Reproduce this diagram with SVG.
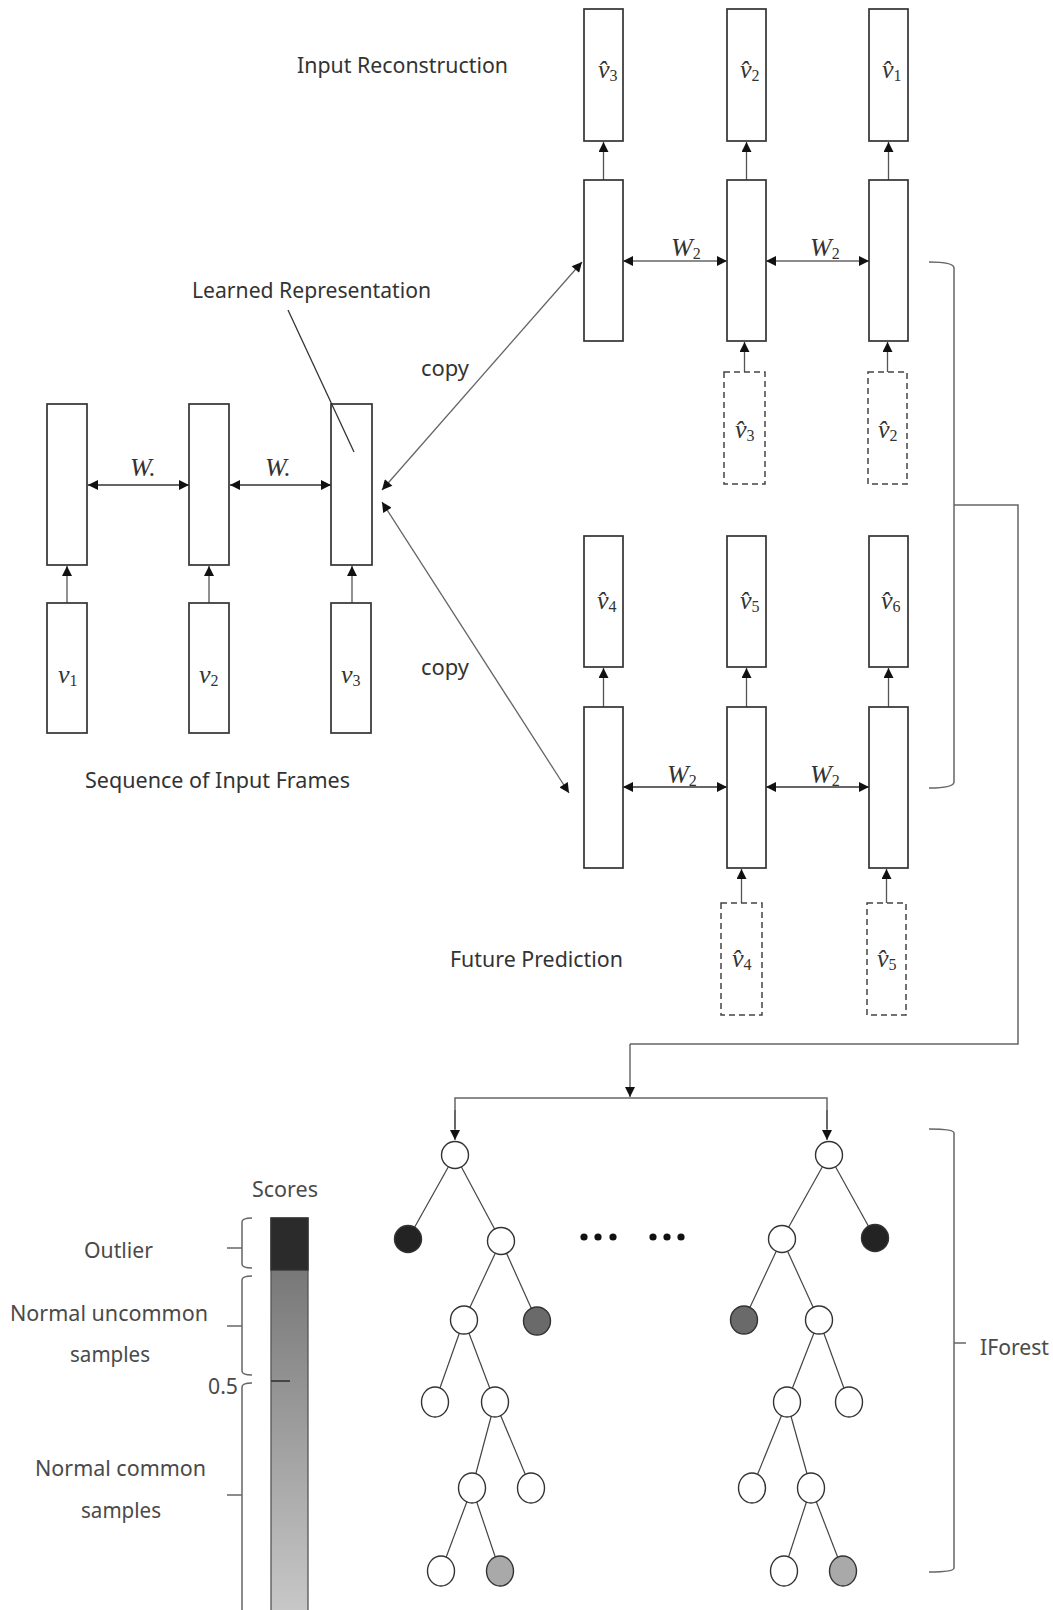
<svg xmlns="http://www.w3.org/2000/svg" width="1053" height="1610" viewBox="0 0 1053 1610">
<defs>
  <marker id="ah" viewBox="0 0 10 10" refX="10" refY="5" markerWidth="11" markerHeight="10" markerUnits="userSpaceOnUse" orient="auto-start-reverse">
    <path d="M0,0 L10,5 L0,10 z" fill="#111"/>
  </marker>
  <linearGradient id="scoreGrad" x1="0" y1="0" x2="0" y2="1">
    <stop offset="0" stop-color="#6c6c6c"/>
    <stop offset="1" stop-color="#c9c9c9"/>
  </linearGradient>
  <style>
    .box { fill: #fff; stroke: #333; stroke-width: 1.7; }
    .dbox { fill: #fff; stroke: #444; stroke-width: 1.5; stroke-dasharray: 6 4; }
    .lbl { font-family: "Noto Sans", "Open Sans", sans-serif; font-size: 21px; fill: #333; }
    .slbl { font-family: "Noto Sans", "Open Sans", sans-serif; font-size: 22px; fill: #4a4a4a; }
    .math { font-family: "Liberation Serif", "DejaVu Serif", serif; font-style: italic; font-size: 26px; fill: #333; }
    .sub { font-size: 16px; font-style: normal; }
    .arr { stroke: #555; stroke-width: 1.3; fill: none; marker-end: url(#ah); }
    .darr { stroke: #333; stroke-width: 1.7; fill: none; marker-start: url(#ah); marker-end: url(#ah); }
    .garr { stroke: #666; stroke-width: 1.3; fill: none; marker-start: url(#ah); marker-end: url(#ah); }
    .wire { stroke: #666; stroke-width: 1.5; fill: none; }
    .edge { stroke: #444; stroke-width: 1.2; }
    .tn { stroke: #333; stroke-width: 1.4; }
    .white { fill: #fff; }
    .black { fill: #232323; }
    .gray { fill: #6a6a6a; }
    .lgray { fill: #a9a9a9; }
  </style>
</defs>

<!-- Texts -->
<text class="lbl" x="297" y="73" textLength="211" lengthAdjust="spacingAndGlyphs">Input Reconstruction</text>
<text class="lbl" x="192" y="298" textLength="239" lengthAdjust="spacingAndGlyphs">Learned Representation</text>
<text class="lbl" x="421" y="376" textLength="48" lengthAdjust="spacingAndGlyphs">copy</text>
<text class="lbl" x="421" y="675" textLength="48" lengthAdjust="spacingAndGlyphs">copy</text>
<text class="lbl" x="85" y="788" textLength="265" lengthAdjust="spacingAndGlyphs">Sequence of Input Frames</text>
<text class="lbl" x="450" y="967" textLength="173" lengthAdjust="spacingAndGlyphs">Future Prediction</text>

<!-- Connectors -->
<g id="connectors">
  <!-- left encoder -->
  <line class="darr" x1="88" y1="485" x2="189" y2="485"/>
  <line class="darr" x1="230" y1="485" x2="331" y2="485"/>
  <line class="arr" x1="67" y1="603" x2="67" y2="566"/>
  <line class="arr" x1="209" y1="603" x2="209" y2="566"/>
  <line class="arr" x1="352" y1="603" x2="352" y2="566"/>
  <!-- copy arrows -->
  <line class="garr" x1="382" y1="490" x2="582" y2="262"/>
  <line class="garr" x1="382" y1="502" x2="569" y2="793"/>
  <!-- upper decoder -->
  <line class="garr" x1="623" y1="261" x2="727" y2="261"/>
  <line class="garr" x1="766" y1="261" x2="869" y2="261"/>
  <line class="arr" x1="603.5" y1="180" x2="603.5" y2="142"/>
  <line class="arr" x1="746.5" y1="180" x2="746.5" y2="142"/>
  <line class="arr" x1="888.5" y1="180" x2="888.5" y2="142"/>
  <line class="arr" x1="744.5" y1="372" x2="744.5" y2="342"/>
  <line class="arr" x1="887.5" y1="372" x2="887.5" y2="342"/>
  <!-- lower decoder -->
  <line class="darr" x1="623" y1="787" x2="727" y2="787"/>
  <line class="darr" x1="766" y1="787" x2="869" y2="787"/>
  <line class="arr" x1="603.5" y1="707" x2="603.5" y2="668"/>
  <line class="arr" x1="746.5" y1="707" x2="746.5" y2="668"/>
  <line class="arr" x1="888.5" y1="707" x2="888.5" y2="668"/>
  <line class="arr" x1="741.5" y1="903" x2="741.5" y2="869"/>
  <line class="arr" x1="886.5" y1="903" x2="886.5" y2="869"/>
  <!-- bracket and routing to IForest -->
  <path class="wire" d="M929,262 Q954,262 954,268 V782 Q954,788 929,788"/>
  <path class="wire" d="M954,505 H1018 V1044 H630"/>
  <line class="arr" x1="630" y1="1044" x2="630" y2="1097"/>
  <path class="wire" d="M455,1129 V1098 H827 V1129"/>
  <line class="arr" x1="455" y1="1110" x2="455" y2="1140"/>
  <line class="arr" x1="827" y1="1110" x2="827" y2="1140"/>
  <!-- IForest bracket -->
  <path class="wire" d="M929,1129 Q954,1129 954,1133 V1568 Q954,1572 929,1572"/>
  <line class="wire" x1="954" y1="1343" x2="966" y2="1343"/>
  <!-- tree edges left -->
  <line class="edge" x1="455" y1="1155" x2="408" y2="1239"/>
  <line class="edge" x1="455" y1="1155" x2="501" y2="1241"/>
  <line class="edge" x1="501" y1="1241" x2="464" y2="1320"/>
  <line class="edge" x1="501" y1="1241" x2="537" y2="1321"/>
  <line class="edge" x1="464" y1="1320" x2="435" y2="1402"/>
  <line class="edge" x1="464" y1="1320" x2="495" y2="1402"/>
  <line class="edge" x1="495" y1="1402" x2="472" y2="1488"/>
  <line class="edge" x1="495" y1="1402" x2="531" y2="1488"/>
  <line class="edge" x1="472" y1="1488" x2="441" y2="1571"/>
  <line class="edge" x1="472" y1="1488" x2="500" y2="1571"/>
  <!-- tree edges right -->
  <line class="edge" x1="829" y1="1155" x2="782" y2="1239"/>
  <line class="edge" x1="829" y1="1155" x2="875" y2="1238"/>
  <line class="edge" x1="782" y1="1239" x2="744" y2="1320"/>
  <line class="edge" x1="782" y1="1239" x2="819" y2="1320"/>
  <line class="edge" x1="819" y1="1320" x2="787" y2="1402"/>
  <line class="edge" x1="819" y1="1320" x2="849" y2="1402"/>
  <line class="edge" x1="787" y1="1402" x2="752" y2="1488"/>
  <line class="edge" x1="787" y1="1402" x2="811" y2="1488"/>
  <line class="edge" x1="811" y1="1488" x2="784" y2="1571"/>
  <line class="edge" x1="811" y1="1488" x2="843" y2="1571"/>
</g>

<!-- Encoder -->
<g id="enc-h1"><rect class="box" x="47" y="404" width="40" height="161"/></g>
<g id="enc-h2"><rect class="box" x="189" y="404" width="40" height="161"/></g>
<g id="enc-h3"><rect class="box" x="331" y="404" width="41" height="161"/></g>
<g id="in-v1"><rect class="box" x="47" y="603" width="40" height="130"/><text class="math" x="58" y="683">v<tspan class="sub" dy="3">1</tspan></text></g>
<g id="in-v2"><rect class="box" x="189" y="603" width="40" height="130"/><text class="math" x="199" y="683">v<tspan class="sub" dy="3">2</tspan></text></g>
<g id="in-v3"><rect class="box" x="331" y="603" width="40" height="130"/><text class="math" x="341" y="683">v<tspan class="sub" dy="3">3</tspan></text></g>
<text class="math" x="130" y="476">W.</text>
<text class="math" x="265" y="476">W.</text>
<!-- learned representation pointer (drawn over the box) -->
<line stroke="#333" stroke-width="1.3" x1="288" y1="310" x2="354" y2="452"/>

<!-- Upper decoder (reconstruction) -->
<g id="rec-out3"><rect class="box" x="584" y="9" width="39" height="132"/><text class="math" x="598" y="78">v&#x302;<tspan class="sub" dy="3">3</tspan></text></g>
<g id="rec-out2"><rect class="box" x="727" y="9" width="39" height="132"/><text class="math" x="740" y="78">v&#x302;<tspan class="sub" dy="3">2</tspan></text></g>
<g id="rec-out1"><rect class="box" x="869" y="9" width="39" height="132"/><text class="math" x="882" y="78">v&#x302;<tspan class="sub" dy="3">1</tspan></text></g>
<g id="rec-h1"><rect class="box" x="584" y="180" width="39" height="161"/></g>
<g id="rec-h2"><rect class="box" x="727" y="180" width="39" height="161"/></g>
<g id="rec-h3"><rect class="box" x="869" y="180" width="39" height="161"/></g>
<g id="rec-in3"><rect class="dbox" x="724" y="372" width="41" height="112"/><text class="math" x="735" y="438">v&#x302;<tspan class="sub" dy="3">3</tspan></text></g>
<g id="rec-in2"><rect class="dbox" x="868" y="372" width="39" height="112"/><text class="math" x="878" y="438">v&#x302;<tspan class="sub" dy="3">2</tspan></text></g>
<text class="math" x="671" y="256">W<tspan class="sub" dy="3">2</tspan></text>
<text class="math" x="810" y="256">W<tspan class="sub" dy="3">2</tspan></text>

<!-- Lower decoder (prediction) -->
<g id="pred-out4"><rect class="box" x="584" y="536" width="39" height="131"/><text class="math" x="597" y="609">v&#x302;<tspan class="sub" dy="3">4</tspan></text></g>
<g id="pred-out5"><rect class="box" x="727" y="536" width="39" height="131"/><text class="math" x="740" y="609">v&#x302;<tspan class="sub" dy="3">5</tspan></text></g>
<g id="pred-out6"><rect class="box" x="869" y="536" width="39" height="131"/><text class="math" x="881" y="609">v&#x302;<tspan class="sub" dy="3">6</tspan></text></g>
<g id="pred-h1"><rect class="box" x="584" y="707" width="39" height="161"/></g>
<g id="pred-h2"><rect class="box" x="727" y="707" width="39" height="161"/></g>
<g id="pred-h3"><rect class="box" x="869" y="707" width="39" height="161"/></g>
<g id="pred-in4"><rect class="dbox" x="721" y="903" width="41" height="112"/><text class="math" x="732" y="967">v&#x302;<tspan class="sub" dy="3">4</tspan></text></g>
<g id="pred-in5"><rect class="dbox" x="867" y="903" width="39" height="112"/><text class="math" x="877" y="967">v&#x302;<tspan class="sub" dy="3">5</tspan></text></g>
<text class="math" x="667" y="783">W<tspan class="sub" dy="3">2</tspan></text>
<text class="math" x="810" y="783">W<tspan class="sub" dy="3">2</tspan></text>

<!-- Left tree -->
<g id="lt-root"><circle class="tn white" cx="455" cy="1155" r="13.5"/></g>
<g id="lt-a"><circle class="tn black" cx="408" cy="1239" r="13.5"/></g>
<g id="lt-b"><circle class="tn white" cx="501" cy="1241" r="13.5"/></g>
<g id="lt-c"><ellipse class="tn white" cx="464" cy="1320" rx="13.5" ry="14"/></g>
<g id="lt-d"><ellipse class="tn gray" cx="537" cy="1321" rx="13.5" ry="14"/></g>
<g id="lt-e"><ellipse class="tn white" cx="435" cy="1402" rx="13.5" ry="15"/></g>
<g id="lt-f"><ellipse class="tn white" cx="495" cy="1402" rx="13.5" ry="15"/></g>
<g id="lt-g"><ellipse class="tn white" cx="472" cy="1488" rx="13.5" ry="15"/></g>
<g id="lt-h"><ellipse class="tn white" cx="531" cy="1488" rx="13.5" ry="15"/></g>
<g id="lt-i"><ellipse class="tn white" cx="441" cy="1571" rx="13.5" ry="15"/></g>
<g id="lt-j"><ellipse class="tn lgray" cx="500" cy="1571" rx="13.5" ry="15"/></g>

<!-- Right tree -->
<g id="rt-root"><circle class="tn white" cx="829" cy="1155" r="13.5"/></g>
<g id="rt-a"><circle class="tn white" cx="782" cy="1239" r="13.5"/></g>
<g id="rt-b"><circle class="tn black" cx="875" cy="1238" r="13.5"/></g>
<g id="rt-c"><ellipse class="tn gray" cx="744" cy="1320" rx="13.5" ry="14"/></g>
<g id="rt-d"><ellipse class="tn white" cx="819" cy="1320" rx="13.5" ry="14"/></g>
<g id="rt-e"><ellipse class="tn white" cx="787" cy="1402" rx="13.5" ry="15"/></g>
<g id="rt-f"><ellipse class="tn white" cx="849" cy="1402" rx="13.5" ry="15"/></g>
<g id="rt-g"><ellipse class="tn white" cx="752" cy="1488" rx="13.5" ry="15"/></g>
<g id="rt-h"><ellipse class="tn white" cx="811" cy="1488" rx="13.5" ry="15"/></g>
<g id="rt-i"><ellipse class="tn white" cx="784" cy="1571" rx="13.5" ry="15"/></g>
<g id="rt-j"><ellipse class="tn lgray" cx="843" cy="1571" rx="13.5" ry="15"/></g>

<!-- ellipsis dots -->
<g id="dots" fill="#111">
  <circle cx="584" cy="1237" r="3.6"/><circle cx="598" cy="1237" r="3.6"/><circle cx="613" cy="1237" r="3.6"/>
  <circle cx="653" cy="1237" r="3.6"/><circle cx="667" cy="1237" r="3.6"/><circle cx="681" cy="1237" r="3.6"/>
</g>
<text class="slbl" x="980" y="1355" textLength="69" lengthAdjust="spacingAndGlyphs">IForest</text>

<!-- Score bar -->
<g id="scores">
  <rect x="271" y="1218" width="37" height="400" fill="url(#scoreGrad)" stroke="#555" stroke-width="1.3"/>
  <rect x="271" y="1218" width="37" height="52" fill="#2b2b2b" stroke="#333" stroke-width="1.3"/>
  <line x1="271" y1="1381" x2="290" y2="1381" stroke="#333" stroke-width="1.6"/>
  <path class="wire" d="M252,1218 Q242,1218 242,1222 V1264 Q242,1268 252,1268"/>
  <line class="wire" x1="227" y1="1248" x2="242" y2="1248"/>
  <path class="wire" d="M252,1276 Q242,1276 242,1280 V1371 Q242,1375 252,1375"/>
  <line class="wire" x1="227" y1="1326" x2="242" y2="1326"/>
  <path class="wire" d="M252,1383 Q242,1383 242,1387 V1610"/>
  <line class="wire" x1="227" y1="1495" x2="242" y2="1495"/>
  <text class="slbl" x="252" y="1197" textLength="66" lengthAdjust="spacingAndGlyphs">Scores</text>
  <text class="slbl" x="84" y="1258" textLength="69" lengthAdjust="spacingAndGlyphs">Outlier</text>
  <text class="slbl" x="10" y="1321" textLength="198" lengthAdjust="spacingAndGlyphs">Normal uncommon</text>
  <text class="slbl" x="70" y="1362" textLength="80" lengthAdjust="spacingAndGlyphs">samples</text>
  <text class="slbl" x="208" y="1394" textLength="30" lengthAdjust="spacingAndGlyphs">0.5</text>
  <text class="slbl" x="35" y="1476" textLength="171" lengthAdjust="spacingAndGlyphs">Normal common</text>
  <text class="slbl" x="81" y="1518" textLength="80" lengthAdjust="spacingAndGlyphs">samples</text>
</g>
</svg>
